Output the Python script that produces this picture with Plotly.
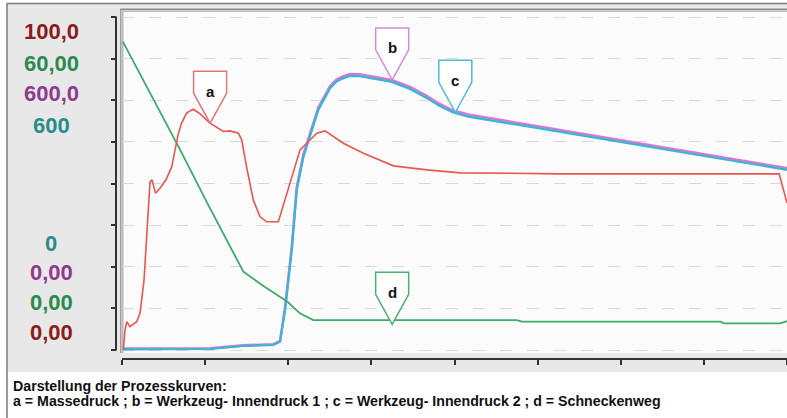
import plotly.graph_objects as go

W, H = 787, 418

# ---- data (time in axis divisions, values in % of full scale) ----
t_a = [0.016, 0.036, 0.057, 0.096, 0.177, 0.217, 0.265, 0.337, 0.361, 0.403, 0.457, 0.529,
       0.598, 0.638, 0.674, 0.718, 0.779, 0.858, 0.939, 1.059, 1.155, 1.219, 1.300, 1.400,
       1.440, 1.460, 1.501, 1.580, 1.661, 1.741, 1.881, 1.941, 2.042, 2.142, 2.223, 2.343,
       2.443, 2.663, 2.904, 3.265, 3.667, 4.067, 4.669, 5.271, 7.906, 8.0]
massedruck = [0.0, 6.0, 8.5, 7.0, 8.5, 11.1, 21.0, 50.5, 51.1, 47.1, 48.6, 51.1,
              55.0, 60.1, 64.6, 68.2, 71.2, 72.3, 70.9, 68.1, 66.7, 65.6, 65.8, 65.1,
              63.1, 60.1, 54.7, 45.0, 40.0, 38.5, 38.5, 43.5, 52.0, 60.1, 62.1, 65.1,
              65.8, 62.1, 59.1, 55.3, 54.1, 53.2, 53.1, 52.9, 52.9, 44.1]

t_bc = [0.012, 1.059, 1.456, 1.817, 1.901, 1.961, 2.042, 2.102, 2.182, 2.262, 2.362,
        2.503, 2.580, 2.663, 2.744, 2.860, 2.984, 3.120, 3.245, 3.465, 3.665, 3.827,
        3.985, 4.165, 8.0]
innendruck_1 = [0.4, 0.5, 1.4, 1.7, 2.7, 12.5, 30.8, 48.8, 58.7, 64.8, 72.8,
                79.2, 81.2, 82.2, 82.9, 82.8, 82.2, 81.7, 81.1, 79.0, 76.3, 73.8,
                71.9, 70.7, 54.6]
innendruck_2 = [0.2, 0.3, 1.2, 1.5, 2.5, 12.0, 30.0, 48.0, 58.0, 64.1, 72.1,
                78.6, 80.6, 81.6, 82.3, 82.2, 81.6, 81.1, 80.5, 78.4, 75.7, 73.2,
                71.3, 70.1, 54.1]

t_d = [0.01, 0.34, 0.70, 1.02, 1.30, 1.46, 1.72, 1.99, 2.14, 2.30, 2.50, 4.75, 4.81,
       7.20, 7.24, 7.92, 8.0]
schneckenweg = [92.6, 77.2, 60.1, 44.4, 31.2, 23.5, 18.9, 14.5, 11.0, 9.0, 9.0, 9.0, 8.5,
                8.5, 8.0, 8.0, 8.7]

callout_letters = ["a", "b", "c", "d"]
callout_t = [1.06, 3.25, 4.01, 3.25]
callout_value = [68.1, 81.1, 71.4, 7.7]
callout_colors = ["#e07a7a", "#d88cd0", "#4dbcd8", "#4cae74"]

labels_top = ["100,0", "60,00", "600,0", "600"]
labels_bottom = ["0", "0,00", "0,00", "0,00"]
colors_top = ["#8a1c1c", "#2b8a4e", "#8e3a8e", "#2a8b8b"]
colors_bottom = ["#2a8b8b", "#8e3a8e", "#2b8a4e", "#8a1c1c"]

caption_lines = ["Darstellung der Prozesskurven:",
                 "a = Massedruck ; b = Werkzeug- Innendruck 1 ; c = Werkzeug- Innendruck 2 ; d = Schneckenweg"]

x_ticks = list(range(0, 9))
y_ticks = [i * 12.5 for i in range(9)]

# ---- layout geometry (pixels) ----
PLOT_L, PLOT_R, PLOT_T, PLOT_B = 122, 787, 12, 353
X_RANGE = [0, 8]
Y_RANGE = [-0.9, 101.5]
px_per_x = (PLOT_R - PLOT_L) / (X_RANGE[1] - X_RANGE[0])
px_per_y = (PLOT_B - PLOT_T) / (Y_RANGE[1] - Y_RANGE[0])
FONT = "Liberation Sans, Arial, sans-serif"


def fx(px):
    return px / W


def fy(py):
    return 1 - py / H


fig = go.Figure()

fig.add_trace(go.Scatter(x=t_bc, y=innendruck_1, mode="lines",
                         line=dict(color="#d47ad0", width=2.6), name="b"))
fig.add_trace(go.Scatter(x=t_bc, y=innendruck_2, mode="lines",
                         line=dict(color="#35b6d6", width=2.2), name="c"))
fig.add_trace(go.Scatter(x=t_d, y=schneckenweg, mode="lines",
                         line=dict(color="#3cab6e", width=1.8), name="d"))
fig.add_trace(go.Scatter(x=t_a, y=massedruck, mode="lines",
                         line=dict(color="#e8574f", width=1.6), name="a"))

shapes = []
# gray panel
shapes.append(dict(type="rect", xref="paper", yref="paper", x0=fx(7), x1=fx(787), y0=fy(372), y1=fy(3),
                   fillcolor="#e8e8e8", line=dict(width=0), layer="below"))
# white plot area
shapes.append(dict(type="rect", xref="paper", yref="paper", x0=fx(PLOT_L), x1=fx(PLOT_R), y0=fy(PLOT_B), y1=fy(PLOT_T),
                   fillcolor="#fbfbfb", line=dict(width=0), layer="below"))
# outer borders
shapes.append(dict(type="line", xref="paper", yref="paper", x0=fx(7), x1=fx(7), y0=fy(418), y1=fy(3),
                   line=dict(color="#7a7a7a", width=1.5), layer="below"))
shapes.append(dict(type="line", xref="paper", yref="paper", x0=fx(7), x1=fx(787), y0=fy(3.5), y1=fy(3.5),
                   line=dict(color="#7a7a7a", width=1.5), layer="below"))
# plot frame (left and top, double line)
shapes.append(dict(type="line", xref="paper", yref="paper", x0=fx(120.8), x1=fx(120.8), y0=fy(PLOT_B), y1=fy(9),
                   line=dict(color="#8c8c8c", width=1.2), layer="below"))
shapes.append(dict(type="line", xref="paper", yref="paper", x0=fx(122.8), x1=fx(122.8), y0=fy(PLOT_B), y1=fy(11),
                   line=dict(color="#b4b4b4", width=1.4), layer="below"))
shapes.append(dict(type="line", xref="paper", yref="paper", x0=fx(120.5), x1=fx(787), y0=fy(9.2), y1=fy(9.2),
                   line=dict(color="#8c8c8c", width=1.4), layer="below"))
shapes.append(dict(type="line", xref="paper", yref="paper", x0=fx(122), x1=fx(787), y0=fy(11.3), y1=fy(11.3),
                   line=dict(color="#b8b8b8", width=1.4), layer="below"))
# y-axis bracket line
shapes.append(dict(type="line", xref="paper", yref="paper", x0=fx(116), x1=fx(116), y0=fy(350.5), y1=fy(16.5),
                   line=dict(color="#333333", width=2), layer="below"))

# callouts
dx = 16.5 / px_per_x
dy_side = 30 / px_per_y
dy_top = 52 / px_per_y
annotations = []
for letter, t, v, col in zip(callout_letters, callout_t, callout_value, callout_colors):
    path = (f"M {t},{v} L {t - dx},{v + dy_side} L {t - dx},{v + dy_top} "
            f"L {t + dx},{v + dy_top} L {t + dx},{v + dy_side} Z")
    shapes.append(dict(type="path", xref="x", yref="y", path=path, fillcolor="#ffffff",
                       line=dict(color=col, width=1.5), layer="above"))
    annotations.append(dict(x=t, y=v, xref="x", yref="y", text=letter, showarrow=False,
                            yshift=32, xanchor="center", yanchor="middle",
                            font=dict(family=FONT, size=15, color="#111111", weight="bold")))

# left labels
top_y = [32, 63, 94, 125]
bot_y = [243, 272, 302, 332]
for txt, col, py in zip(labels_top + labels_bottom, colors_top + colors_bottom, top_y + bot_y):
    annotations.append(dict(x=fx(51), y=fy(py), xref="paper", yref="paper", text=txt, showarrow=False,
                            xanchor="center", yanchor="middle",
                            font=dict(family=FONT, size=22, color=col, weight="bold")))

# caption
for line, py in zip(caption_lines, [386, 401]):
    annotations.append(dict(x=fx(11), y=fy(py), xref="paper", yref="paper", text=line, showarrow=False,
                            xanchor="left", yanchor="middle",
                            font=dict(family=FONT, size=14.2, color="#111111", weight="bold")))

fig.update_layout(
    width=W, height=H,
    margin=dict(l=0, r=0, t=0, b=0),
    paper_bgcolor="#ffffff",
    plot_bgcolor="rgba(0,0,0,0)",
    showlegend=False,
    shapes=shapes,
    annotations=annotations,
    xaxis=dict(domain=[fx(PLOT_L), fx(PLOT_R)], range=X_RANGE, anchor="free", position=fy(359),
               showgrid=False, zeroline=False, showline=True, linecolor="#333333", linewidth=2,
               ticks="outside", ticklen=5, tickwidth=2, tickcolor="#333333",
               tickvals=x_ticks, showticklabels=False, fixedrange=True),
    yaxis=dict(domain=[fy(PLOT_B), fy(PLOT_T)], range=Y_RANGE, anchor="free", position=fx(116),
               showgrid=True, gridcolor="#d8d8d8", griddash="12px,15px", gridwidth=1,
               zeroline=False, showline=False,
               ticks="outside", ticklen=5, tickwidth=2, tickcolor="#333333",
               tickvals=y_ticks, showticklabels=False, fixedrange=True),
)

fig.write_html("out.html", config={"displayModeBar": False},
               post_script="document.body.style.margin='0px';document.body.style.overflow='hidden';")
